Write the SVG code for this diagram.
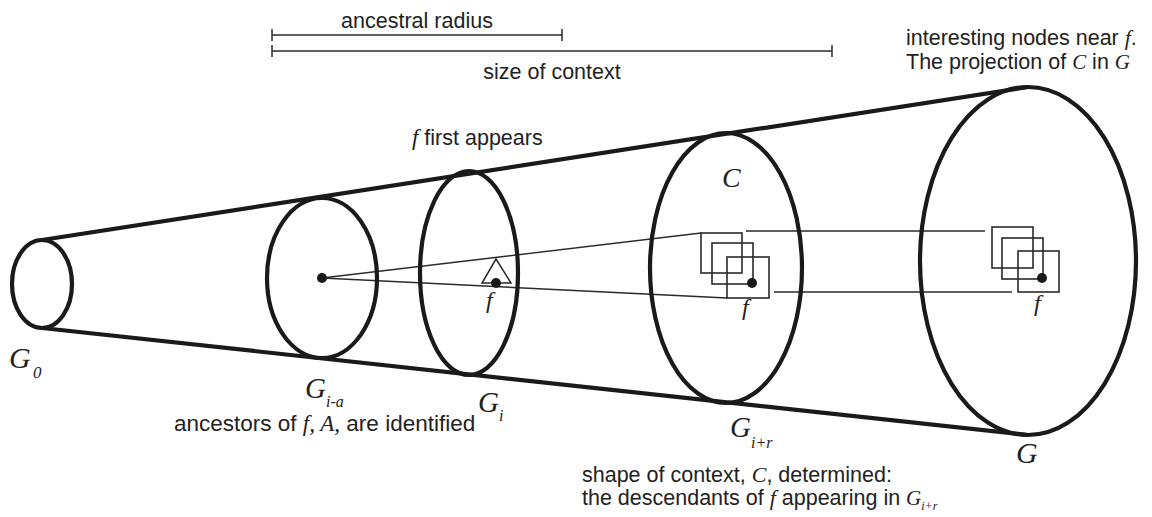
<svg xmlns="http://www.w3.org/2000/svg" width="1152" height="517" viewBox="0 0 1152 517">
<style>
.thick{fill:none;stroke:#1a1a1a;stroke-width:4.2}
.thin{fill:none;stroke:#2a2a2a;stroke-width:1.5}
.box{fill:none;stroke:#2a2a2a;stroke-width:1.6}
.dot{fill:#1a1a1a}
.t{font-family:"Liberation Sans",Arial,sans-serif;font-size:21.5px;fill:#222}
.m{font-family:"Liberation Serif","Times New Roman",serif;font-style:italic;fill:#222}
</style>
<rect width="1152" height="517" fill="#fff"/>
<g id="connectors">
<line class="thick" x1="42" y1="240" x2="1028" y2="87"/>
<line class="thick" x1="42" y1="328" x2="1028" y2="435"/>
<line class="thin" x1="322" y1="278" x2="701" y2="233"/>
<line class="thin" x1="322" y1="278" x2="727" y2="298"/>
<line class="thin" x1="746" y1="231" x2="985" y2="231"/>
<line class="thin" x1="774" y1="292" x2="1012" y2="292"/>
</g>
<g id="scale">
<line class="thin" x1="272" y1="35" x2="562" y2="35"/>
<line class="thin" x1="272" y1="29" x2="272" y2="41"/>
<line class="thin" x1="562" y1="29" x2="562" y2="41"/>
<line class="thin" x1="272" y1="51" x2="832" y2="51"/>
<line class="thin" x1="272" y1="45" x2="272" y2="57"/>
<line class="thin" x1="832" y1="45" x2="832" y2="57"/>
<text class="t" x="417" y="28" text-anchor="middle">ancestral radius</text>
<text class="t" x="552" y="79" text-anchor="middle">size of context</text>
</g>
<g id="G0">
<ellipse class="thick" cx="42" cy="284" rx="30" ry="44"/>
<text class="m" x="9" y="368" font-size="30">G</text>
<text class="m" x="33" y="378" font-size="17">0</text>
</g>
<g id="Gia">
<ellipse class="thick" cx="322" cy="278" rx="55" ry="80"/>
<circle class="dot" cx="322" cy="278" r="5"/>
<text class="m" x="305" y="398" font-size="29">G</text>
<text class="m" x="326" y="407" font-size="16">i-a</text>
<text class="t" x="174" y="431" font-size="22.5px" style="font-size:22.5px">ancestors of <tspan class="m" font-size="23">f, A,</tspan> are identified</text>
</g>
<g id="Gi">
<ellipse class="thick" cx="469" cy="273" rx="49" ry="102"/>
<polygon class="thin" points="496,259 482,283 511,283" fill="#fff"/>
<circle class="dot" cx="496" cy="283" r="5"/>
<text class="m" x="486" y="308" font-size="24">f</text>
<text class="m" x="478" y="412" font-size="29">G</text>
<text class="m" x="499" y="421" font-size="16">i</text>
<text class="t" x="412" y="145"><tspan class="m" font-size="23">f</tspan> first appears</text>
</g>
<g id="Gir">
<ellipse class="thick" cx="726" cy="268" rx="76" ry="135"/>
<text class="m" x="722" y="187" font-size="28">C</text>
<rect class="box" x="701" y="233" width="41" height="40"/>
<rect class="box" x="712" y="243" width="41" height="41"/>
<rect class="box" x="727" y="257" width="42" height="41"/>
<circle class="dot" cx="752" cy="283" r="5"/>
<text class="m" x="742" y="315" font-size="24">f</text>
<text class="m" x="730" y="437" font-size="29">G</text>
<text class="m" x="751" y="448" font-size="16">i+r</text>
<text class="t" x="582" y="482">shape of context, <tspan class="m" font-size="22">C</tspan>, determined:</text>
<text class="t" x="582" y="505">the descendants of <tspan class="m" font-size="22">f</tspan> appearing in <tspan class="m" font-size="21">G</tspan><tspan class="m" font-size="12" dy="5">i+r</tspan></text>
</g>
<g id="G">
<ellipse class="thick" cx="1028" cy="261" rx="108" ry="174"/>
<rect class="box" x="992" y="227" width="41" height="41"/>
<rect class="box" x="1002" y="238" width="41" height="41"/>
<rect class="box" x="1018" y="251" width="41" height="41"/>
<circle class="dot" cx="1042" cy="278" r="5"/>
<text class="m" x="1034" y="311" font-size="24">f</text>
<text class="m" x="1016" y="463" font-size="30">G</text>
<text class="t" x="906" y="45">interesting nodes near <tspan class="m" font-size="22">f</tspan>.</text>
<text class="t" x="906" y="69">The projection of <tspan class="m" font-size="21">C</tspan> in <tspan class="m" font-size="21">G</tspan></text>
</g>
</svg>
